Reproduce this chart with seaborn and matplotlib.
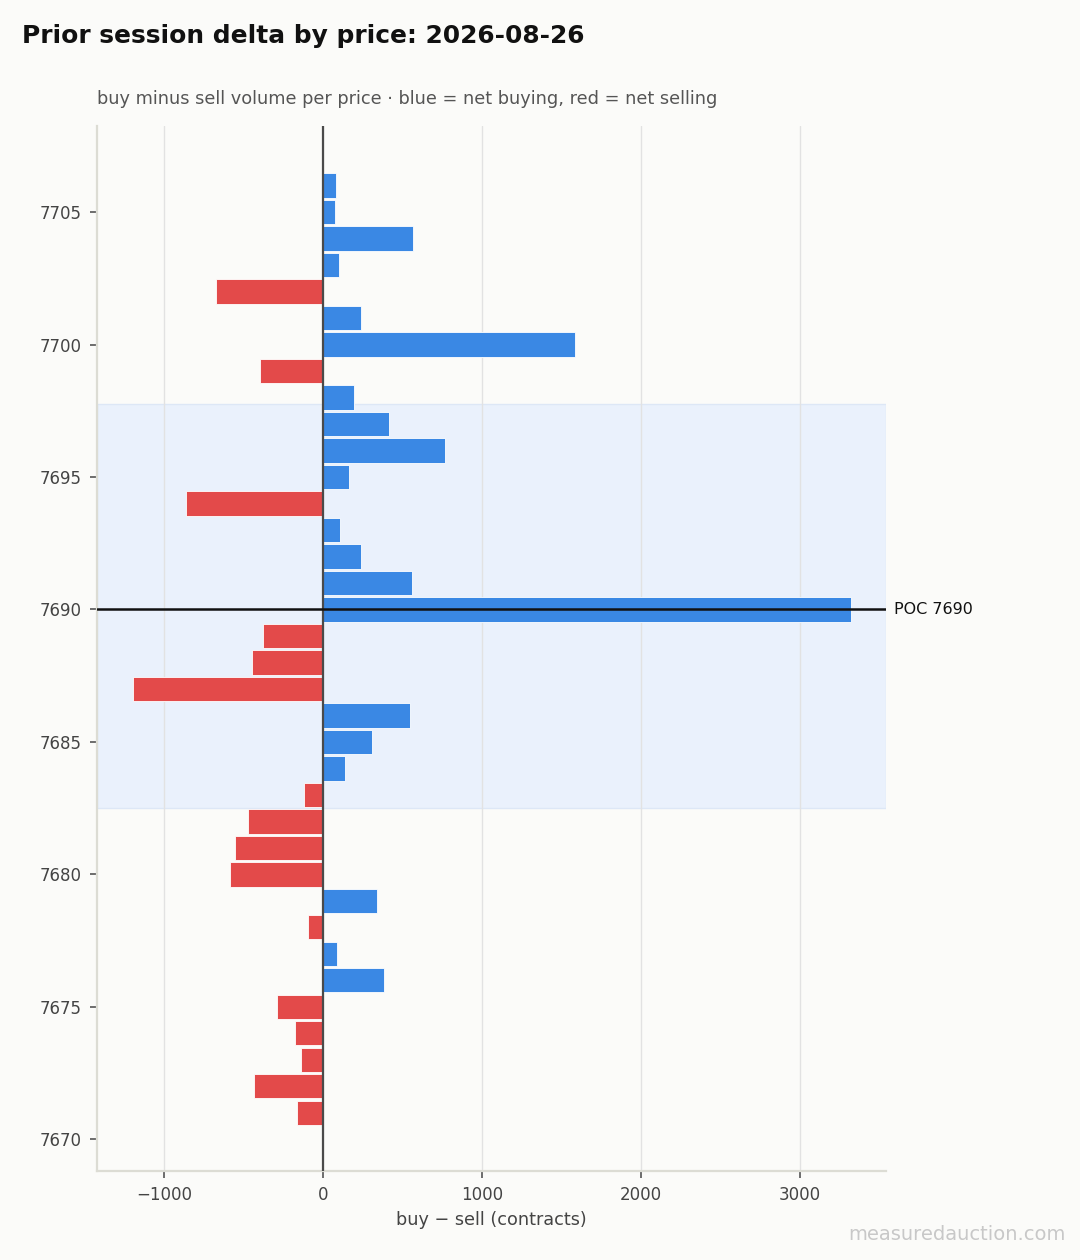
import numpy as np
import pandas as pd
import matplotlib
matplotlib.use("Agg")
import matplotlib.pyplot as plt
import seaborn as sns

# ----- data -----
prices = [7706, 7705, 7704, 7703, 7702, 7701, 7700, 7699, 7698, 7697,
          7696, 7695, 7694, 7693, 7692, 7691, 7690, 7689, 7688, 7687,
          7686, 7685, 7684, 7683, 7682, 7681, 7680, 7679, 7678, 7677,
          7676, 7675, 7674, 7673, 7672, 7671]
delta = [82, 75, 566, 100, -673, 239, 1585, -396, 195, 415,
         767, 164, -862, 107, 239, 560, 3321, -377, -447, -1195,
         547, 308, 138, -119, -472, -553, -585, 340, -94, 88,
         384, -289, -176, -138, -434, -164]
poc = 7690
va_low, va_high = 7682.5, 7697.75
x_ticks = [-1000, 0, 1000, 2000, 3000]
y_ticks = [7670, 7675, 7680, 7685, 7690, 7695, 7700, 7705]

BLUE = "#3a88e4"
RED = "#e34a4a"
BG = "#fbfbf9"

df = pd.DataFrame({"price": prices, "delta": delta})
df["side"] = np.where(df["delta"] >= 0, "buy", "sell")

sns.set_style("white")
plt.rcParams["font.family"] = ["DejaVu Sans"]

fig = plt.figure(figsize=(10.8, 12.6), dpi=100, facecolor=BG)
ax = fig.add_axes([97 / 1080, 1 - 1171 / 1260, (886 - 97) / 1080, (1171 - 126) / 1260])
ax.set_facecolor(BG)

# value area band
ax.axhspan(va_low, va_high, facecolor="#eaf1fc", edgecolor="#dde7f6", linewidth=1, zorder=0)

sns.barplot(data=df, x="delta", y="price", hue="side", orient="y", native_scale=True,
            palette={"buy": BLUE, "sell": RED}, saturation=1, dodge=False, width=0.92,
            edgecolor="white", linewidth=0.6, legend=False, ax=ax, zorder=2)

ax.axvline(0, color="#4a4a4a", linewidth=1.6, zorder=3)
ax.axhline(poc, color="#111111", linewidth=1.8, zorder=4)
ax.text(1.01, poc, f"POC {poc}", transform=ax.get_yaxis_transform(),
        va="center", ha="left", fontsize=11.5, color="#111111")

ax.set_xlim(-1420, 3540)
ax.set_ylim(7668.8, 7708.25)
ax.set_xticks(x_ticks)
ax.set_xticklabels([f"{t:d}".replace("-", "\u2212") for t in x_ticks])
ax.set_yticks(y_ticks)

ax.grid(axis="x", color="#e2e2e2", linewidth=1, zorder=0)
ax.grid(axis="y", visible=False)
ax.set_axisbelow(True)

for side in ["top", "right"]:
    ax.spines[side].set_visible(False)
for side in ["left", "bottom"]:
    ax.spines[side].set_color("#dcdcd4")
    ax.spines[side].set_linewidth(1.6)

ax.tick_params(axis="both", labelsize=12, colors="#555555", length=5, width=1.2,
               pad=6, left=True, bottom=True)
for lab in ax.get_xticklabels() + ax.get_yticklabels():
    lab.set_color("#444444")

ax.set_ylabel("")
ax.set_xlabel("buy \u2212 sell (contracts)", fontsize=12.7, color="#444444", labelpad=5)

fig.text(22 / 1080, 1 - 36 / 1260, "Prior session delta by price: 2026-08-26",
         fontsize=17.9, fontweight="bold", color="#111111", va="center", ha="left")
fig.text(97 / 1080, 1 - 99.5 / 1260,
         "buy minus sell volume per price \u00b7 blue = net buying, red = net selling",
         fontsize=12.8, color="#555555", va="center", ha="left")
fig.text(1066 / 1080, 1 - 1234 / 1260, "measuredauction.com", fontsize=14,
         color="#c8c8c8", va="center", ha="right")

fig.savefig("out.png", dpi=100, facecolor=BG)
